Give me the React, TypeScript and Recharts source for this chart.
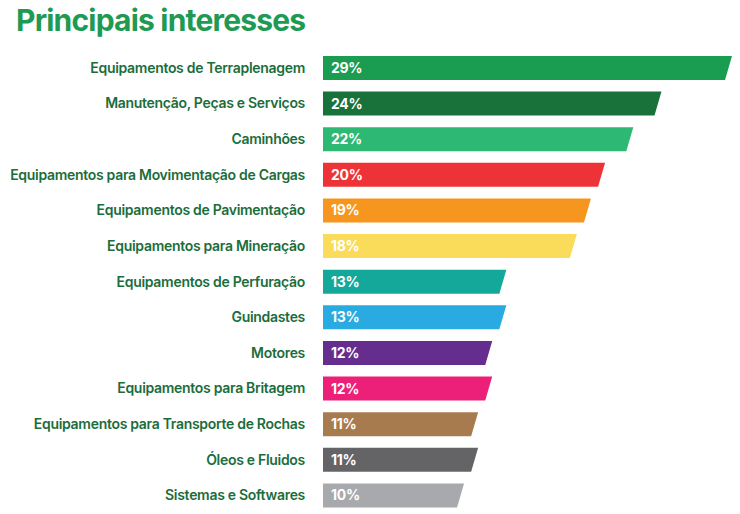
import { BarChart, Bar, XAxis, YAxis, Cell, LabelList } from "recharts";

const categories = [
  "Equipamentos de Terraplenagem",
  "Manutenção, Peças e Serviços",
  "Caminhões",
  "Equipamentos para Movimentação de Cargas",
  "Equipamentos de Pavimentação",
  "Equipamentos para Mineração",
  "Equipamentos de Perfuração",
  "Guindastes",
  "Motores",
  "Equipamentos para Britagem",
  "Equipamentos para Transporte de Rochas",
  "Óleos e Fluidos",
  "Sistemas e Softwares",
];

const values = [29, 24, 22, 20, 19, 18, 13, 13, 12, 12, 11, 11, 10];

const colors = [
  "#1a9c51",
  "#187239",
  "#2db874",
  "#ee3338",
  "#f6961f",
  "#fadc5a",
  "#14a89a",
  "#29abe2",
  "#652d8e",
  "#ed2079",
  "#a87b4f",
  "#646466",
  "#a7a9ac",
];

const data = categories.map((name, i) => ({ name, value: values[i] }));

const FONT = "Inter, 'Noto Sans', sans-serif";

const SlantBar = (props: any) => {
  const { x, y, width, height, fill } = props;
  const slant = 7;
  const d = `M${x},${y} L${x + width},${y} L${x + width - slant},${y + height} L${x},${y + height} Z`;
  return <path d={d} fill={fill} />;
};

const LabelTick = (props: any) => {
  const { y, payload } = props;
  return (
    <text
      x={305}
      y={y}
      dy={5}
      textAnchor="end"
      fill="#1b6d3b"
      fontFamily={FONT}
      fontSize={14}
      fontWeight={600}
      letterSpacing={-0.3}
    >
      {payload.value}
    </text>
  );
};

const PctLabel = (props: any) => {
  const { x, y, height, value } = props;
  return (
    <text
      x={x + 8}
      y={y + height / 2}
      dy={5}
      fill="#ffffff"
      fontFamily={FONT}
      fontSize={14}
      fontWeight={700}
      letterSpacing={-0.3}
    >
      {`${value}%`}
    </text>
  );
};

const App = () => {
  return (
    <div
      style={{
        position: "absolute",
        left: 0,
        top: 0,
        width: 740,
        height: 514,
        background: "#ffffff",
      }}
    >
      <div
        style={{
          position: "absolute",
          left: 16,
          top: 2,
          fontFamily: FONT,
          fontSize: 30,
          fontWeight: 700,
          letterSpacing: -0.8,
          color: "#1e9a52",
        }}
      >
        Principais interesses
      </div>
      <BarChart
        width={740}
        height={514}
        data={data}
        layout="vertical"
        margin={{ top: 50, right: 8, bottom: 1, left: 0 }}
        barSize={24}
      >
        <XAxis type="number" domain={[0, 29]} hide />
        <YAxis
          type="category"
          dataKey="name"
          width={323}
          axisLine={false}
          tickLine={false}
          interval={0}
          tick={<LabelTick />}
        />
        <Bar dataKey="value" shape={<SlantBar />} isAnimationActive={false}>
          {data.map((d, i) => (
            <Cell key={d.name} fill={colors[i]} />
          ))}
          <LabelList dataKey="value" content={<PctLabel />} />
        </Bar>
      </BarChart>
    </div>
  );
};

export default App;
